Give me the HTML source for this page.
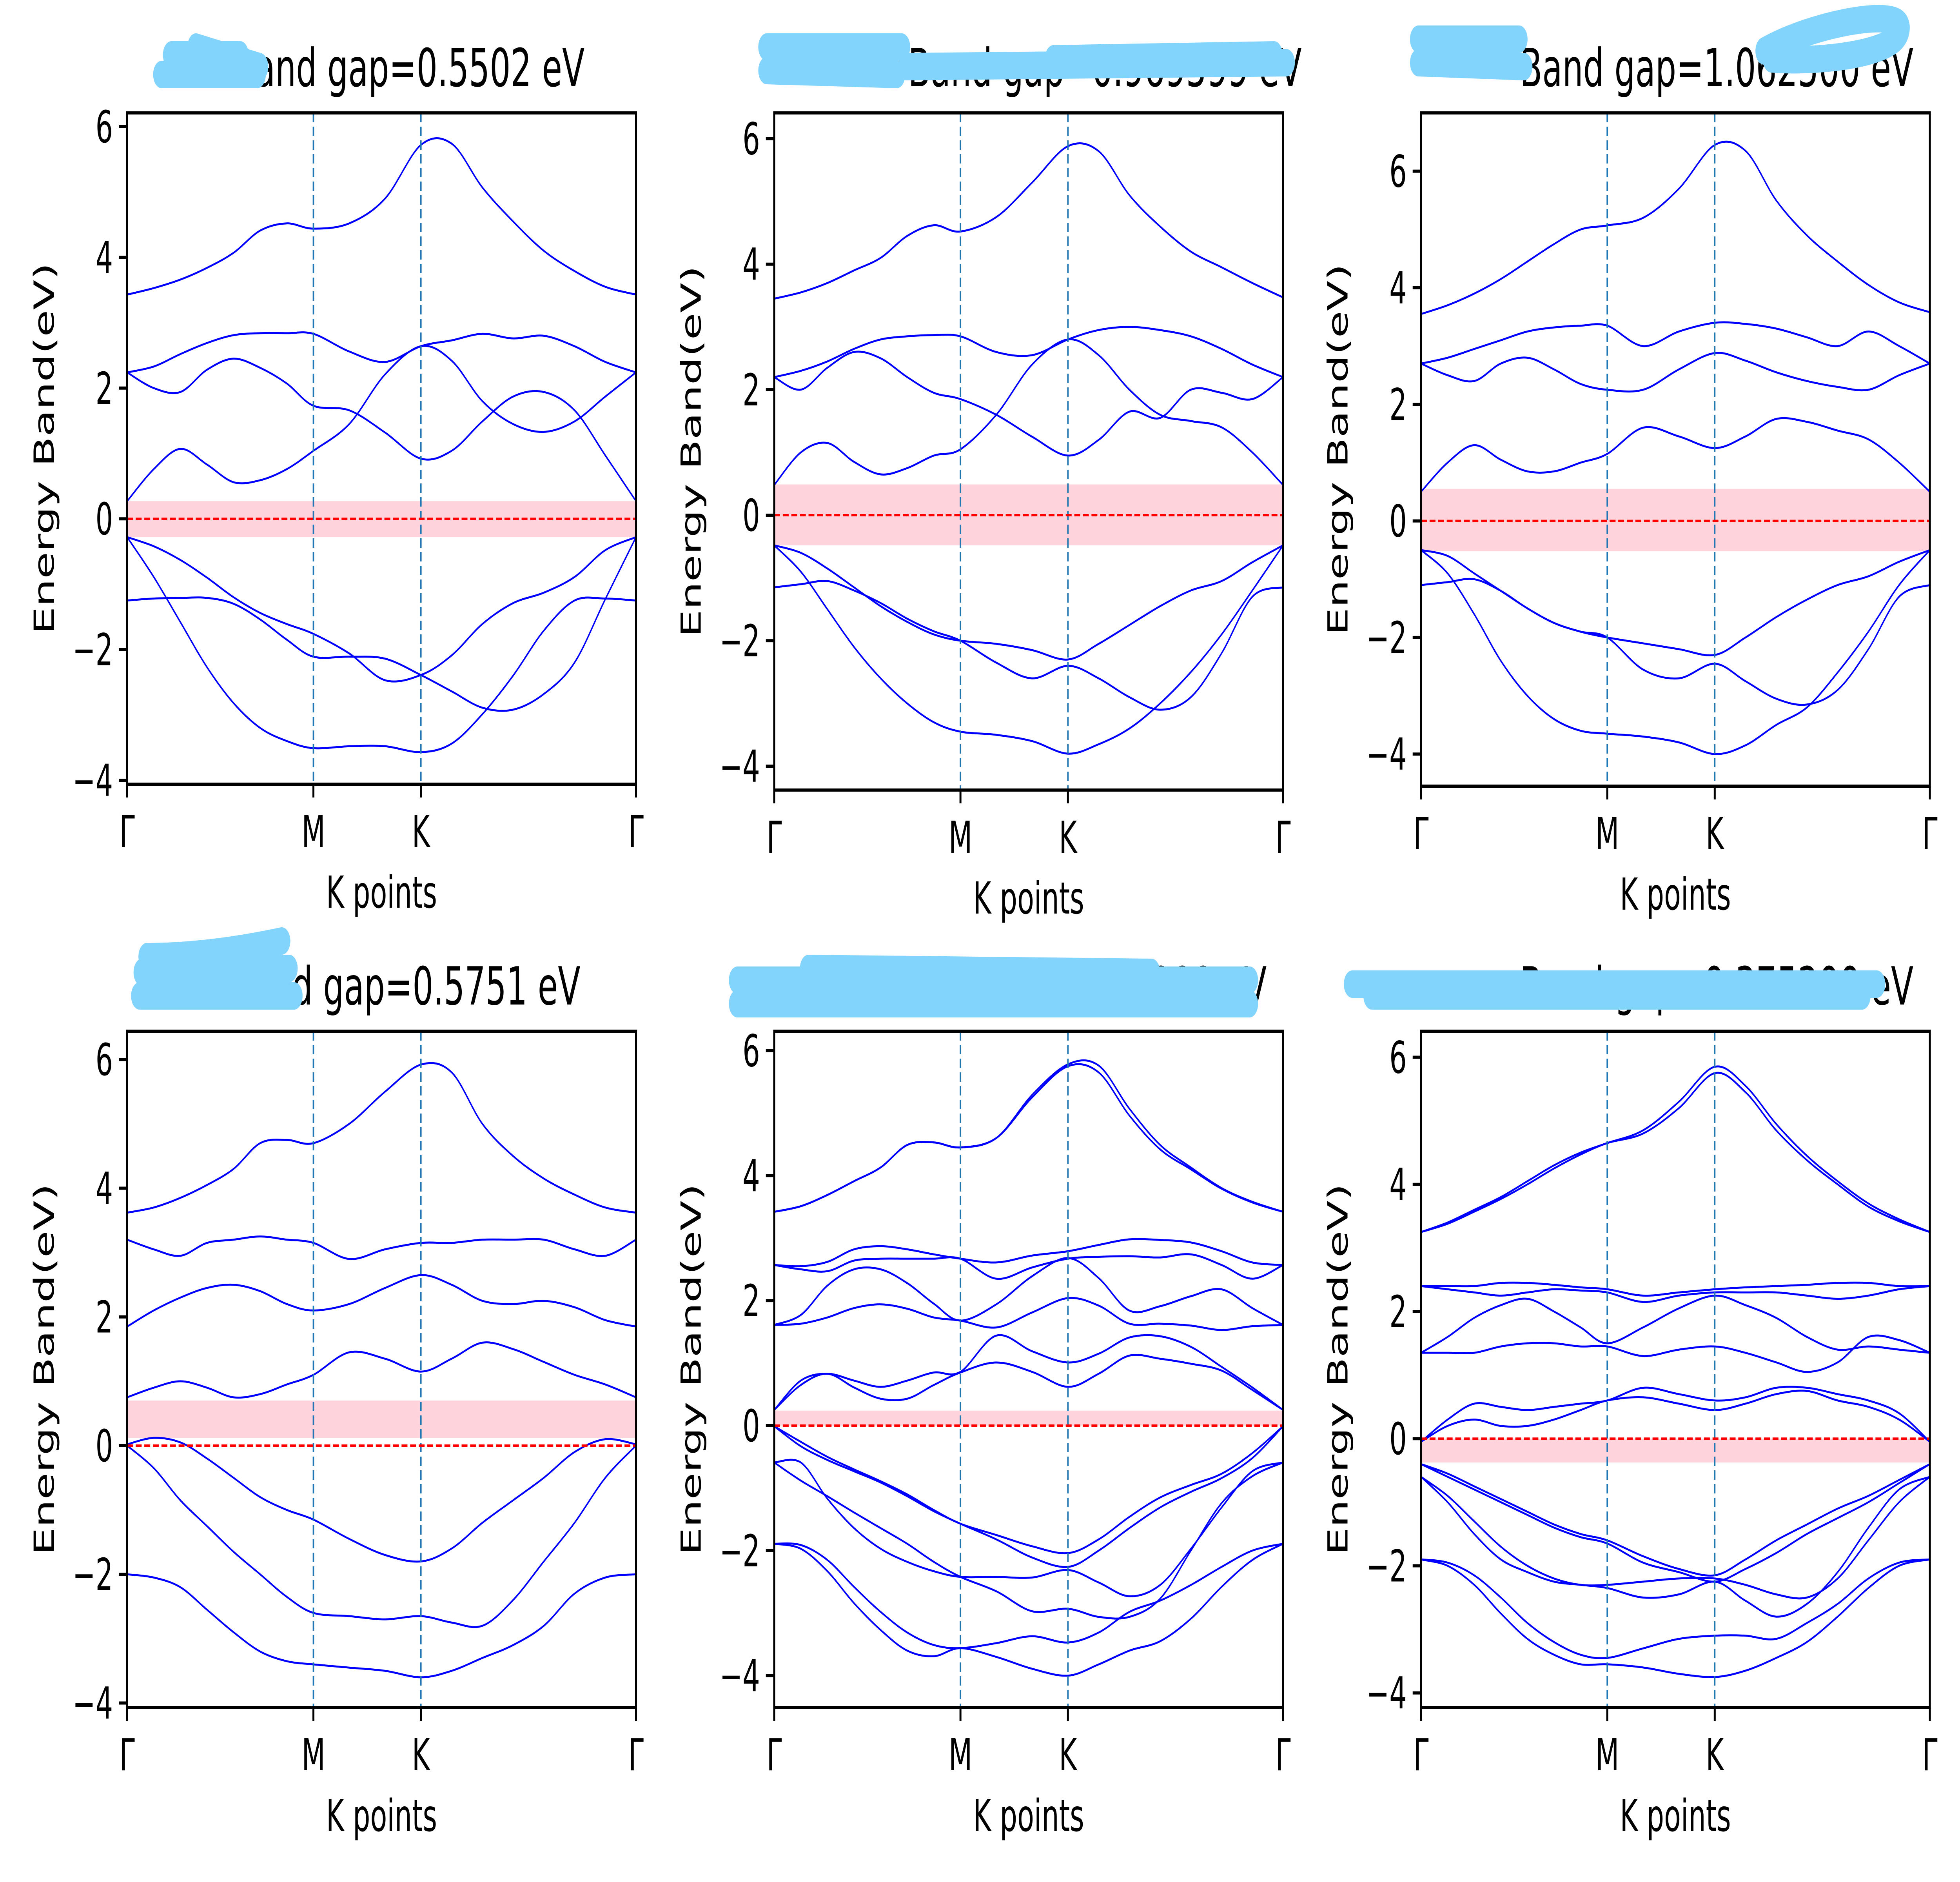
<!DOCTYPE html>
<html>
<head>
<meta charset="utf-8">
<style>
  html, body { margin: 0; padding: 0; background: #ffffff; overflow: hidden; width: 100%; height: 100%; }
  svg { display: block; width: 100vw; height: 100vh; }
  text { font-family: "DejaVu Sans", "Liberation Sans", sans-serif; fill: #000; }
</style>
</head>
<body>
<svg id="fig" xmlns="http://www.w3.org/2000/svg" viewBox="0 0 8000 4800" preserveAspectRatio="none">
  <rect x="0" y="0" width="8000" height="4800" fill="#ffffff"/>
</svg>
<script>
// ---- data ----
const kLabels = ["Γ", "M", "K", "Γ"];
const kTickPos = [0, 1, 1.577, 2.732];
const yTickValues = [-4, -2, 0, 2, 4, 6];
const yTickLabels = ["−4", "−2", "0", "2", "4", "6"];
const titles = ["Band gap=0.5502 eV", "Band gap=0.969599 eV", "Band gap=1.062500 eV",
                "Band gap=0.5751 eV", "Band gap=0.261900 eV", "Band gap=0.375200 eV"];
const gapLow = [-0.28, -0.48, -0.52, 0.12, 0.0, -0.375];
const gapHigh = [0.27, 0.49, 0.55, 0.70, 0.24, 0.0];
const yMin = [-4.06, -4.38, -4.55, -4.07, -4.51, -4.23];
const yMax = [6.21, 6.41, 7.0, 6.44, 6.31, 6.41];

const bands1 = [
 [3.43,3.53,3.66,3.84,4.07,4.41,4.52,4.44,4.52,4.90,5.72,5.74,5.07,4.55,4.10,3.79,3.55,3.43],
 [2.24,2.33,2.52,2.69,2.81,2.84,2.84,2.83,2.56,2.40,2.64,2.73,2.83,2.76,2.80,2.64,2.40,2.24],
 [2.24,2.00,1.94,2.28,2.45,2.31,2.07,1.73,1.66,1.32,0.92,1.04,1.49,1.87,1.94,1.66,0.97,0.27],
 [0.27,0.76,1.07,0.83,0.56,0.59,0.76,1.04,1.45,2.21,2.64,2.42,1.80,1.45,1.33,1.49,1.87,2.24],
 [-0.28,-0.42,-0.63,-0.90,-1.20,-1.44,-1.61,-1.76,-2.06,-2.47,-2.39,-2.09,-1.61,-1.29,-1.13,-0.89,-0.48,-0.28],
 [-1.25,-1.22,-1.21,-1.21,-1.30,-1.54,-1.85,-2.11,-2.11,-2.14,-2.39,-2.64,-2.89,-2.92,-2.68,-2.20,-1.23,-0.28],
 [-0.28,-0.89,-1.58,-2.27,-2.82,-3.20,-3.40,-3.51,-3.48,-3.48,-3.57,-3.44,-2.99,-2.40,-1.71,-1.25,-1.22,-1.25]
];
const bands2 = [
 [3.45,3.55,3.7,3.9,4.1,4.45,4.62,4.52,4.75,5.3,5.88,5.8,5.1,4.6,4.2,3.95,3.7,3.47],
 [2.2,2.3,2.45,2.65,2.8,2.85,2.87,2.85,2.6,2.55,2.8,2.95,3.0,2.95,2.85,2.65,2.4,2.2],
 [2.2,2.0,2.35,2.6,2.5,2.2,1.95,1.85,1.6,1.25,0.95,1.2,1.65,1.55,2.0,1.95,1.85,2.2],
 [0.48,1.0,1.15,0.85,0.65,0.75,0.95,1.05,1.6,2.4,2.8,2.55,2.0,1.6,1.5,1.4,1.0,0.48],
 [-0.48,-0.6,-0.85,-1.15,-1.45,-1.7,-1.9,-2.0,-2.05,-2.15,-2.3,-2.05,-1.75,-1.45,-1.2,-1.05,-0.75,-0.48],
 [-1.15,-1.1,-1.05,-1.2,-1.4,-1.65,-1.85,-2.0,-2.35,-2.6,-2.4,-2.6,-2.9,-3.1,-2.9,-2.2,-1.3,-1.15],
 [-0.48,-0.9,-1.5,-2.1,-2.6,-3.0,-3.3,-3.45,-3.5,-3.6,-3.8,-3.65,-3.4,-3.0,-2.5,-1.9,-1.2,-0.48]
];
const bands3 = [
 [3.55,3.7,3.9,4.15,4.45,4.75,5.0,5.07,5.2,5.7,6.45,6.35,5.5,4.9,4.45,4.05,3.75,3.58],
 [2.7,2.8,2.95,3.1,3.25,3.32,3.35,3.35,3.0,3.25,3.4,3.38,3.3,3.15,3.0,3.25,3.0,2.7],
 [2.7,2.5,2.4,2.7,2.8,2.6,2.35,2.25,2.25,2.6,2.88,2.75,2.55,2.4,2.3,2.25,2.5,2.7],
 [0.5,1.0,1.3,1.05,0.85,0.85,1.0,1.15,1.6,1.45,1.25,1.45,1.75,1.7,1.55,1.4,1.0,0.5],
 [-0.5,-0.6,-0.9,-1.2,-1.5,-1.75,-1.9,-2.0,-2.1,-2.2,-2.3,-2.0,-1.65,-1.35,-1.1,-0.95,-0.7,-0.5],
 [-1.1,-1.05,-1.0,-1.2,-1.5,-1.75,-1.9,-2.0,-2.55,-2.7,-2.45,-2.75,-3.05,-3.15,-2.9,-2.2,-1.3,-1.1],
 [-0.5,-0.9,-1.6,-2.4,-3.0,-3.4,-3.6,-3.65,-3.7,-3.8,-4.0,-3.85,-3.5,-3.2,-2.6,-1.9,-1.1,-0.5]
];
const bands4 = [
 [3.62,3.7,3.85,4.05,4.3,4.7,4.75,4.7,5.0,5.5,5.92,5.8,5.0,4.5,4.15,3.9,3.7,3.62],
 [3.2,3.05,2.95,3.15,3.2,3.25,3.2,3.15,2.9,3.05,3.15,3.15,3.2,3.2,3.2,3.05,2.95,3.2],
 [1.85,2.1,2.3,2.45,2.5,2.4,2.2,2.1,2.2,2.45,2.65,2.5,2.25,2.2,2.25,2.15,1.95,1.85],
 [0.75,0.9,1.0,0.9,0.75,0.8,0.95,1.1,1.45,1.35,1.15,1.35,1.6,1.5,1.3,1.1,0.95,0.75],
 [0.02,0.12,0.05,-0.2,-0.5,-0.8,-1.0,-1.15,-1.45,-1.7,-1.8,-1.6,-1.2,-0.85,-0.5,-0.1,0.1,0.02],
 [0.0,-0.35,-0.85,-1.25,-1.65,-2.0,-2.35,-2.6,-2.65,-2.7,-2.65,-2.75,-2.8,-2.4,-1.8,-1.2,-0.5,0.0],
 [-2.0,-2.05,-2.2,-2.55,-2.9,-3.2,-3.35,-3.4,-3.45,-3.5,-3.6,-3.5,-3.3,-3.1,-2.8,-2.3,-2.05,-2.0]
];
const bands5 = [
 [3.42,3.51,3.69,3.91,4.13,4.49,4.53,4.45,4.60,5.29,5.78,5.76,5.07,4.49,4.13,3.80,3.58,3.42],
 [3.42,3.51,3.69,3.91,4.13,4.49,4.53,4.45,4.60,5.25,5.75,5.65,4.96,4.42,4.10,3.79,3.57,3.42],
 [2.57,2.55,2.62,2.82,2.87,2.82,2.74,2.67,2.61,2.72,2.79,2.89,2.98,2.97,2.93,2.79,2.61,2.57],
 [2.57,2.50,2.47,2.64,2.67,2.67,2.67,2.67,2.35,2.53,2.67,2.70,2.71,2.69,2.74,2.57,2.35,2.57],
 [1.61,1.77,2.24,2.50,2.50,2.28,1.95,1.68,1.94,2.39,2.68,2.36,1.84,1.91,2.07,2.18,1.88,1.61],
 [1.61,1.63,1.73,1.88,1.94,1.87,1.73,1.68,1.57,1.81,2.04,1.92,1.63,1.63,1.60,1.53,1.59,1.61],
 [0.25,0.72,0.83,0.72,0.62,0.72,0.85,0.86,1.44,1.19,1.01,1.15,1.41,1.43,1.26,0.94,0.61,0.25],
 [0.25,0.65,0.83,0.61,0.43,0.43,0.65,0.85,1.01,0.86,0.62,0.83,1.12,1.07,0.99,0.88,0.57,0.25],
 [-0.01,-0.26,-0.50,-0.70,-0.89,-1.10,-1.35,-1.57,-1.75,-1.93,-2.04,-1.82,-1.46,-1.15,-0.95,-0.77,-0.44,-0.01],
 [-0.01,-0.33,-0.55,-0.73,-0.91,-1.13,-1.37,-1.57,-1.82,-2.11,-2.26,-2.00,-1.64,-1.31,-1.06,-0.84,-0.52,-0.01],
 [-0.59,-0.59,-1.17,-1.64,-1.97,-2.18,-2.33,-2.42,-2.42,-2.43,-2.31,-2.51,-2.73,-2.55,-1.97,-1.31,-0.73,-0.59],
 [-0.59,-0.88,-1.13,-1.39,-1.64,-1.89,-2.18,-2.42,-2.65,-2.97,-2.93,-3.06,-3.06,-2.77,-2.00,-1.24,-0.81,-0.59],
 [-1.89,-1.91,-2.15,-2.58,-2.98,-3.31,-3.51,-3.56,-3.48,-3.37,-3.47,-3.31,-2.98,-2.80,-2.55,-2.26,-2.00,-1.89],
 [-1.89,-1.97,-2.33,-2.84,-3.27,-3.60,-3.69,-3.56,-3.70,-3.89,-4.00,-3.82,-3.60,-3.45,-3.09,-2.58,-2.15,-1.89]
];
const bands6 = [
 [3.25,3.4,3.6,3.8,4.05,4.3,4.5,4.65,4.85,5.3,5.85,5.55,4.95,4.45,4.05,3.7,3.45,3.25],
 [3.25,3.38,3.57,3.77,4.0,4.25,4.47,4.65,4.8,5.2,5.75,5.45,4.85,4.38,4.0,3.65,3.42,3.25],
 [2.4,2.4,2.4,2.45,2.45,2.42,2.38,2.35,2.25,2.3,2.35,2.38,2.4,2.42,2.45,2.45,2.4,2.4],
 [2.4,2.35,2.3,2.25,2.3,2.35,2.33,2.3,2.15,2.25,2.3,2.3,2.3,2.25,2.2,2.25,2.35,2.4],
 [1.35,1.6,1.9,2.1,2.2,2.0,1.75,1.5,1.75,2.05,2.25,2.1,1.9,1.6,1.4,1.45,1.4,1.35],
 [1.35,1.35,1.35,1.45,1.5,1.5,1.45,1.45,1.3,1.4,1.45,1.35,1.2,1.05,1.2,1.6,1.55,1.35],
 [-0.05,0.3,0.55,0.5,0.45,0.5,0.55,0.6,0.8,0.7,0.6,0.65,0.8,0.8,0.7,0.6,0.4,-0.05],
 [-0.05,0.2,0.3,0.2,0.2,0.3,0.45,0.6,0.65,0.55,0.45,0.55,0.7,0.75,0.6,0.5,0.3,-0.05],
 [-0.4,-0.55,-0.75,-0.95,-1.15,-1.35,-1.5,-1.6,-1.85,-2.05,-2.15,-1.9,-1.6,-1.35,-1.1,-0.9,-0.65,-0.4],
 [-0.4,-0.6,-0.8,-1.0,-1.2,-1.4,-1.55,-1.65,-1.95,-2.1,-2.25,-2.05,-1.8,-1.5,-1.25,-1.0,-0.7,-0.4],
 [-0.6,-0.9,-1.3,-1.7,-2.0,-2.2,-2.3,-2.3,-2.25,-2.2,-2.2,-2.3,-2.45,-2.5,-2.2,-1.6,-1.0,-0.6],
 [-0.6,-1.0,-1.5,-1.9,-2.1,-2.25,-2.3,-2.35,-2.5,-2.45,-2.25,-2.55,-2.8,-2.6,-2.1,-1.4,-0.8,-0.6],
 [-1.9,-1.95,-2.15,-2.5,-2.9,-3.2,-3.4,-3.45,-3.3,-3.15,-3.1,-3.1,-3.15,-2.9,-2.6,-2.2,-1.95,-1.9],
 [-1.9,-2.0,-2.3,-2.75,-3.15,-3.4,-3.55,-3.55,-3.6,-3.7,-3.75,-3.65,-3.45,-3.2,-2.8,-2.35,-2.0,-1.9]
];
const allBands = [bands1, bands2, bands3, bands4, bands5, bands6];

// ---- layout ----
const NS = "http://www.w3.org/2000/svg";
const svg = document.getElementById("fig");
const colLeft = [519, 3160, 5800];
const panelW = 2077;
const boxes = [
  {l: colLeft[0], t: 288, b: 2000}, {l: colLeft[1], t: 288, b: 2015}, {l: colLeft[2], t: 288, b: 2005},
  {l: colLeft[0], t: 2630, b: 4355}, {l: colLeft[1], t: 2630, b: 4355}, {l: colLeft[2], t: 2630, b: 4355}
];
const titleEnd = [2386, 5313, 7810, 2369, 5170, 7810];

function mk(tag, attrs, parent) {
  const e = document.createElementNS(NS, tag);
  for (const k in attrs) e.setAttribute(k, attrs[k]);
  (parent || svg).appendChild(e);
  return e;
}
function kSample() {
  const ks = [];
  for (let i = 0; i < 7; i++) ks.push(kTickPos[0] + (kTickPos[1] - kTickPos[0]) * i / 7);
  for (let i = 0; i < 3; i++) ks.push(kTickPos[1] + (kTickPos[2] - kTickPos[1]) * i / 3);
  for (let i = 0; i <= 7; i++) ks.push(kTickPos[2] + (kTickPos[3] - kTickPos[2]) * i / 7);
  return ks;
}
const ksamp = kSample();

function smoothPath(pts) {
  let d = "M" + pts[0][0].toFixed(1) + "," + pts[0][1].toFixed(1);
  for (let i = 0; i < pts.length - 1; i++) {
    const p0 = pts[Math.max(0, i - 1)], p1 = pts[i], p2 = pts[i + 1], p3 = pts[Math.min(pts.length - 1, i + 2)];
    const c1x = p1[0] + (p2[0] - p0[0]) / 6, c1y = p1[1] + (p2[1] - p0[1]) / 6;
    const c2x = p2[0] - (p3[0] - p1[0]) / 6, c2y = p2[1] - (p3[1] - p1[1]) / 6;
    d += " C" + c1x.toFixed(1) + "," + c1y.toFixed(1) + " " + c2x.toFixed(1) + "," + c2y.toFixed(1) + " " + p2[0].toFixed(1) + "," + p2[1].toFixed(1);
  }
  return d;
}

for (let p = 0; p < 6; p++) {
  const bx = boxes[p];
  const L = bx.l, R = bx.l + panelW, T = bx.t, B = bx.b;
  const xs = k => L + (k - kTickPos[0]) / (kTickPos[3] - kTickPos[0]) * (R - L);
  const ys = e => B - (e - yMin[p]) / (yMax[p] - yMin[p]) * (B - T);
  const g = mk("g", {});
  
  

  const gr = mk("rect", {x: L, y: ys(gapHigh[p]), width: R - L, height: Math.max(0, ys(gapLow[p]) - ys(gapHigh[p])), fill: "#ffd3dc"}, g);
  
  

  const bands = allBands[p];
  for (let b = 0; b < bands.length; b++) {
    const pts = bands[b].map((e, i) => [xs(ksamp[i]), ys(e)]);
    const path = mk("path", {d: smoothPath(pts), fill: "none", stroke: "#0000ff", "stroke-width": 5}, g);
    
    
  }

  for (let i = 1; i <= 2; i++) {
    const vl = mk("line", {x1: xs(kTickPos[i]), x2: xs(kTickPos[i]), y1: T, y2: B, stroke: "#1f77b4", "stroke-width": 6, "stroke-dasharray": "24,11"}, g);
    
    
  }
  const fl = mk("line", {x1: L, x2: R, y1: ys(0), y2: ys(0), stroke: "#ff0000", "stroke-width": 6, "stroke-dasharray": "24,11"}, g);
  
  

  const fr = mk("rect", {x: L, y: T, width: R - L, height: B - T, fill: "none", stroke: "#000", "stroke-width": 8}, g);
  
  

  for (let i = 0; i < yTickValues.length; i++) {
    const y = ys(yTickValues[i]);
    const tk = mk("line", {x1: L - 34, x2: L, y1: y, y2: y, stroke: "#000", "stroke-width": 8}, g);
    
    
    const tl = mk("text", {x: L - 58, y: y + 40, "font-size": 112, "text-anchor": "end"}, g);
    tl.textContent = yTickLabels[i];
    
    
  }
  for (let i = 0; i < kTickPos.length; i++) {
    const x = xs(kTickPos[i]);
    const tk = mk("line", {x1: x, x2: x, y1: B, y2: B + 34, stroke: "#000", "stroke-width": 8}, g);
    
    
    const tl = mk("text", {x: x, y: B + 160, "font-size": 112, "text-anchor": "middle"}, g);
    tl.textContent = kLabels[i];
    
    
  }
  const xl = mk("text", {x: (L + R) / 2, y: B + 315, "font-size": 112, "text-anchor": "middle"}, g);
  xl.textContent = "K points";
  
  
  const cy = (T + B) / 2;
  const yl = mk("text", {x: L - 300, y: cy, "font-size": 112, "text-anchor": "middle", transform: "rotate(-90 " + (L - 300) + " " + cy + ")"}, g);
  yl.textContent = "Energy Band(eV)";
  
  
  const tt = mk("text", {x: titleEnd[p], y: T - 68, "font-size": 134, "text-anchor": "end"}, g);
  tt.textContent = titles[p];
  
  
}

const scribbles = [
  "M660,190 L1050,190 M700,140 L980,140 M800,120 L1060,170",
  "M3130,120 L3680,120 M3130,180 L3660,190 M3700,170 L5250,160 M4300,150 L5200,140",
  "M5790,100 L6200,100 M5790,160 L6220,170 M7200,130 C7400,60 7750,20 7760,70 C7760,140 7400,160 7230,150",
  "M570,2540 L1200,2540 M580,2480 L1180,2470 M600,2440 C800,2440 1000,2420 1150,2400",
  "M3010,2500 L5100,2500 M3010,2560 L5100,2560 M3300,2470 L4700,2480",
  "M5520,2510 L7660,2510 M5600,2540 L7600,2540"
];
for (let i = 0; i < scribbles.length; i++) {
  const s = mk("path", {d: scribbles[i], fill: "none", stroke: "#82d4fc", "stroke-width": 70, "stroke-linecap": "round", "stroke-linejoin": "round"});
  
  
}
</script>
</body>
</html>
